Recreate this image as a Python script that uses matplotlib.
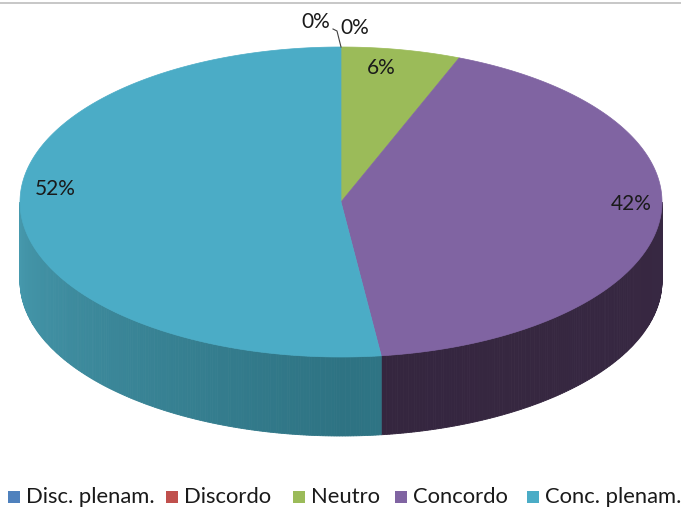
import numpy as np
import matplotlib
matplotlib.use("Agg")
import matplotlib.pyplot as plt
from matplotlib.patches import Polygon, Rectangle
from matplotlib.colors import to_rgb

categories = ["Disc. plenam.", "Discordo", "Neutro", "Concordo", "Conc. plenam."]
values = [0, 0, 6, 42, 52]
labels = ["0%", "0%", "6%", "42%", "52%"]
colors = ["#4F81BD", "#C0504D", "#9BBB59", "#8064A2", "#4BACC6"]
side_dark = ["#2c4a70", "#70302e", "#5a6e33", "#35263f", "#2e7383"]
side_light = ["#3d6595", "#8a3b38", "#6f8a40", "#3c2c49", "#4699ad"]

W, H = 681, 508
fig = plt.figure(figsize=(W / 100, H / 100), dpi=100)
ax = fig.add_axes([0, 0, 1, 1])
ax.set_xlim(0, W)
ax.set_ylim(H, 0)
ax.axis("off")

cx, cy, rx, ry, depth = 341, 202, 321, 155, 79

def pt(theta_deg, dy=0.0):
    t = np.radians(theta_deg)
    return cx + rx * np.sin(t), cy - ry * np.cos(t) + dy

total = float(sum(values))
bounds = np.concatenate([[0], np.cumsum(values) / total * 360.0])

# side walls (front half: 90..270 deg clockwise from top)
for i in range(len(values)):
    a0, a1 = bounds[i], bounds[i + 1]
    lo, hi = max(a0, 90), min(a1, 270)
    if hi <= lo:
        continue
    n = int(np.ceil(hi - lo)) * 2
    edges = np.linspace(lo, hi, n + 1)
    c_d = np.array(to_rgb(side_dark[i]))
    c_l = np.array(to_rgb(side_light[i]))
    for j in range(n):
        t0, t1 = edges[j], edges[j + 1]
        tm = 0.5 * (t0 + t1)
        f = np.clip((tm - 180) / 90.0, 0, 1) if tm >= 180 else np.clip((180 - tm) / 90.0, 0, 1) * 0.3
        col = c_d + (c_l - c_d) * f
        p = [pt(t0), pt(t1), pt(t1, depth), pt(t0, depth)]
        ax.add_patch(Polygon(p, closed=True, facecolor=col, edgecolor=col, lw=0.6))

# top face
for i in range(len(values)):
    a0, a1 = bounds[i], bounds[i + 1]
    if a1 - a0 <= 0:
        continue
    th = np.linspace(a0, a1, max(int((a1 - a0) * 2), 2))
    xs, ys = pt(th)
    poly = [(cx, cy)] + list(zip(xs, ys))
    ax.add_patch(Polygon(poly, closed=True, facecolor=colors[i], edgecolor=colors[i], lw=0.5))

# data labels
label_pos = [(316, 22), (355, 28), (381, 68), (631, 204), (55, 189)]
for (lx, ly), lab in zip(label_pos, labels):
    ax.text(lx, ly, lab, ha="center", va="center", fontsize=15, family="Lato", color="#1a1a1a")
ax.plot([333, 337, 341], [29, 31, 47], color="#404040", lw=0.8)

# top border line
ax.plot([0, W], [3, 3], color="#bdbdbd", lw=1.2)

# legend
leg_x = [8, 166, 293, 395, 527]
for i, (x0, name) in enumerate(zip(leg_x, categories)):
    ax.add_patch(Rectangle((x0, 491), 12, 12, facecolor=colors[i], edgecolor="none"))
    ax.text(x0 + 18, 497, name, ha="left", va="center", fontsize=15.8, family="Lato", color="#1a1a1a")

fig.savefig("out.png", dpi=100)
